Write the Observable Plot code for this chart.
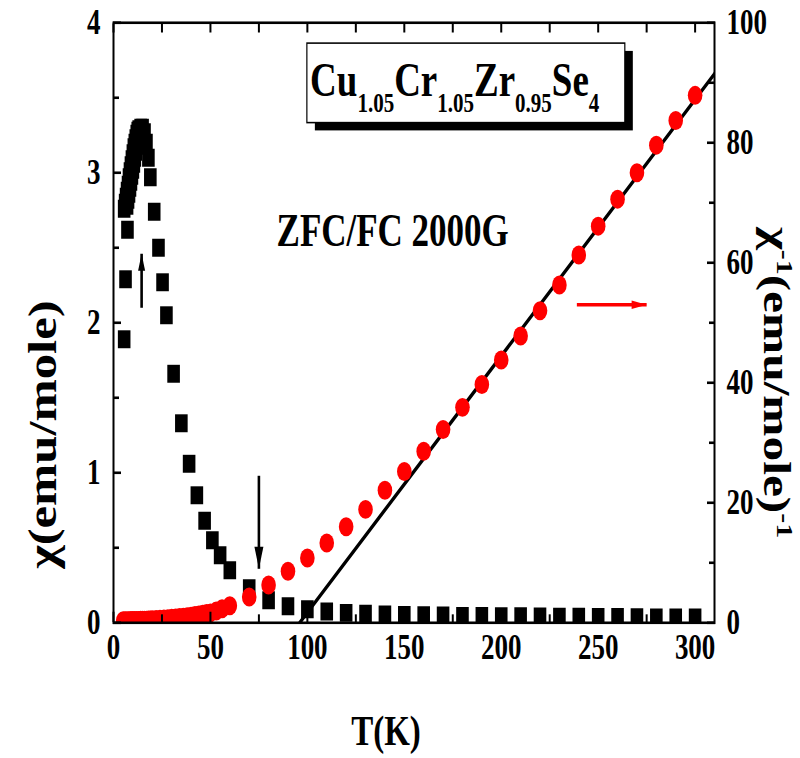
<!DOCTYPE html>
<html>
<head>
<meta charset="utf-8">
<script src="https://cdn.jsdelivr.net/npm/d3@7"></script>
<script src="https://cdn.jsdelivr.net/npm/@observablehq/plot@0.6"></script>
<style>
  body { margin: 0; background: #fff; }
  #chart svg { display: block; }
</style>
</head>
<body>
<div id="chart"></div>
<script>
// ---- data ----
// chi (left axis) : black squares
const sqT = [5.5, 6.2, 7.2,
  5.5, 6, 6.5, 7, 7.5, 8, 8.5, 9, 9.5, 10, 10.5, 11, 11.5, 12, 12.5, 13, 14, 15, 16,
  7, 7.5, 8, 8.5, 9, 9.5, 10, 10.5, 11, 11.5, 12, 13, 14,
  17, 18, 19, 21, 23.2, 25.3, 27.3, 31, 35, 39, 43, 47, 51, 55, 60, 70, 80, 90, 100,
  110, 120, 130, 140, 150, 160, 170, 180, 190, 200, 210, 220, 230, 240, 250, 260, 270, 280, 290, 300];
const sqChi = [1.89, 2.29, 2.62,
  2.76, 2.80, 2.84, 2.88, 2.92, 2.97, 3.01, 3.05, 3.09, 3.13, 3.17, 3.20, 3.23, 3.26, 3.28, 3.29, 3.30, 3.30, 3.27,
  2.78, 2.82, 2.86, 2.90, 2.94, 2.98, 3.02, 3.06, 3.10, 3.14, 3.18, 3.22, 3.25,
  3.20, 3.10, 2.97, 2.74, 2.50, 2.27, 2.05, 1.66, 1.33, 1.06, 0.85, 0.68, 0.55, 0.45, 0.35, 0.23, 0.15, 0.11, 0.09,
  0.075, 0.066, 0.060, 0.055, 0.052, 0.050, 0.048, 0.046, 0.045, 0.044, 0.043, 0.042, 0.041, 0.040, 0.039, 0.038, 0.037, 0.036, 0.036, 0.035];
// 1/chi (right axis) : red circles
const invT = [5, 6, 7, 8, 9, 10, 11, 12, 13, 14, 15, 16, 17, 18, 19, 20, 22, 24, 26, 28, 30, 32, 34, 36, 38, 40,
  42, 44, 46, 48, 50, 53, 56, 60, 70, 80, 90, 100, 110, 120, 130, 140, 150, 160, 170, 180, 190, 200, 210, 220,
  230, 240, 250, 260, 270, 280, 290, 300];
const invChi = [0.35, 0.35, 0.36, 0.36, 0.37, 0.37, 0.38, 0.39, 0.40, 0.41, 0.42, 0.43, 0.44, 0.46, 0.48, 0.50,
  0.54, 0.58, 0.63, 0.68, 0.74, 0.80, 0.87, 0.94, 1.02, 1.10, 1.20, 1.30, 1.42, 1.55, 1.65, 1.95, 2.35, 2.85,
  4.3, 6.3, 8.6, 10.8, 13.3, 16.0, 18.9, 22.1, 25.2, 28.6, 32.2, 35.9, 39.7, 43.8, 47.8, 52.0, 56.3, 61.3, 66.1,
  70.6, 75.0, 79.6, 83.7, 87.9];
// Curie-Weiss fit line end points (right axis)
const fitT = [96, 310];
const fitInv = [0, 91.5];

// axes
const xDomain = [0, 310];
const leftDomain = [0, 4];
const rightDomain = [0, 100];
const xMajor = [0, 50, 100, 150, 200, 250, 300];
const xMinor = [25, 75, 125, 175, 225, 275];
const leftMajor = [0, 1, 2, 3, 4];
const leftMinor = [0.5, 1.5, 2.5, 3.5];
const rightMajor = [0, 20, 40, 60, 80, 100];
const rightMinor = [10, 30, 50, 70, 90];

// texts
const formulaParts = [["Cu", ""], ["1.05", "sub"], ["Cr", ""], ["1.05", "sub"], ["Zr", ""], ["0.95", "sub"], ["Se", ""], ["4", "sub"]];
const rightLabelParts = [["χ", ""], ["-1", "sup"], ["(emu/mole)", ""], ["-1", "sup"]];
const leftLabel = "χ(emu/mole)";
const xLabel = "T(K)";
const fieldLabel = "ZFC/FC 2000G";

// annotations (data coordinates)
const box = {T1: 100, T2: 264, chi1: 3.33, chi2: 3.86};
const arrows = [
  {x1: 14.5, y1: 2.10, x2: 14.5, y2: 2.46, color: "black", len: 13, w: 7, rot: 0},
  {x1: 75, y1: 0.98, x2: 75, y2: 0.36, color: "black", len: 17, w: 9, rot: 180},
  {x1: 239, y1: 53 * 4 / 100, x2: 275, y2: 53 * 4 / 100, color: "#ff0000", len: 15, w: 6.5, rot: 90}
];

// ---- rendering ----
const OUT_H = 758, S = 1.3;           // the picture is stretched vertically
const H = Math.round(OUT_H / S);
const K = leftDomain[1] / rightDomain[1];   // right-axis -> left-axis factor

const squares = sqT.map((t, i) => ({T: t, v: sqChi[i]}));
const circles = invT.map((t, i) => ({T: t, v: invChi[i] * K}));
const fit = fitT.map((t, i) => ({T: t, v: fitInv[i] * K}));

const rectSymbol = { draw(ctx) { ctx.rect(-6.3, -6.9, 12.6, 13.8); } };
const headSymbol = (len, w) => ({ draw(ctx) { ctx.moveTo(0, 0); ctx.lineTo(w / 2, len); ctx.lineTo(-w / 2, len); ctx.closePath(); } });
const formulaPlain = formulaParts.map(d => d[0]).join("");
const rightPlain = rightLabelParts.map(d => d[0]).join("");
const bold = {fontWeight: "bold", fontFamily: "Liberation Serif"};

const svg = Plot.plot({
  width: 800,
  height: H,
  marginLeft: 113,
  marginRight: 86,
  marginTop: 17,
  marginBottom: H - 478.5,
  style: {fontFamily: "Liberation Serif", color: "black", background: "white"},
  x: {domain: xDomain},
  y: {domain: leftDomain},
  marks: [
    // title box with shadow
    Plot.rect([box], {x1: "T1", x2: "T2", y1: "chi1", y2: "chi2", fill: "black", dx: 8, dy: 6}),
    Plot.rect([box], {x1: "T1", x2: "T2", y1: "chi1", y2: "chi2", fill: "white", stroke: "black", strokeWidth: 1.2}),
    Plot.text([formulaPlain], {x: 176, y: 3.617, text: d => d, fontSize: 37, ...bold, textAnchor: "middle"}),
    Plot.text([fieldLabel], {x: 144, y: 2.61, text: d => d, fontSize: 35, ...bold}),
    // data
    Plot.line(fit, {x: "T", y: "v", stroke: "black", strokeWidth: 3, clip: true}),
    Plot.dot(squares, {x: "T", y: "v", symbol: rectSymbol, fill: "black", stroke: "none", clip: true}),
    Plot.dot(circles, {x: "T", y: "v", r: 7.3, fill: "#ff0000", stroke: "none", clip: true}),
    Plot.link(arrows, {x1: "x1", y1: "y1", x2: "x2", y2: "y2", stroke: "color", strokeWidth: 2.6}),
    ...arrows.map(a => Plot.dot([a], {x: "x2", y: "y2", fill: "color", stroke: "none", symbol: headSymbol(a.len, a.w), rotate: a.rot})),
    // axes
    Plot.axisX(xMajor, {anchor: "bottom", tickSize: -8, tickPadding: 17, strokeWidth: 2, fontSize: 27, ...bold, label: null}),
    Plot.axisX(xMinor, {anchor: "bottom", tickSize: -6, strokeWidth: 2, tickFormat: () => "", label: null}),
    Plot.axisX(xMajor.concat(xMinor), {anchor: "top", tickSize: -7, strokeWidth: 2, tickFormat: () => "", label: null}),
    Plot.axisY(leftMajor, {anchor: "left", tickSize: -8, tickPadding: 21, strokeWidth: 2, fontSize: 27, ...bold, tickFormat: d => String(d), label: null}),
    Plot.axisY(leftMinor, {anchor: "left", tickSize: -6, strokeWidth: 2, tickFormat: () => "", label: null}),
    Plot.axisY(rightMajor.map(v => v * K), {anchor: "right", tickSize: -8, tickPadding: 20, strokeWidth: 2, fontSize: 27, ...bold, tickFormat: d => String(Math.round(d / K)), label: null}),
    Plot.axisY(rightMinor.map(v => v * K), {anchor: "right", tickSize: -6, strokeWidth: 2, tickFormat: () => "", label: null}),
    Plot.frame({stroke: "black", strokeWidth: 2}),
    // axis titles
    Plot.text([xLabel], {frameAnchor: "bottom", text: d => d, dx: -28, dy: 94, textAnchor: "middle", fontSize: 33, ...bold}),
    Plot.text([leftLabel], {frameAnchor: "left", text: d => d, dx: -70, dy: 86, textAnchor: "middle", rotate: -90, fontSize: 39, letterSpacing: 3.5, ...bold}),
    Plot.text([rightPlain], {frameAnchor: "right", text: d => d, dx: 62, dy: 46, textAnchor: "middle", rotate: 90, fontSize: 38, letterSpacing: 2.5, ...bold})
  ]
});

function richText(plain, parts, small, shift) {
  d3.select(svg).selectAll("text").filter(function () { return this.textContent === plain; }).each(function () {
    const t = d3.select(this);
    t.text(null);
    let cur = 0;
    for (const [s, kind] of parts) {
      const target = kind === "sub" ? shift : kind === "sup" ? -shift : 0;
      const sp = t.append("tspan").attr("dy", target - cur).text(s);
      if (kind) sp.attr("font-size", small);
      cur = target;
    }
  });
}
richText(formulaPlain, formulaParts, 21, 13);
richText(rightPlain, rightLabelParts, 23, 13);

svg.setAttribute("preserveAspectRatio", "none");
svg.setAttribute("height", OUT_H);
svg.style.height = OUT_H + "px";
svg.style.maxWidth = "none";
document.getElementById("chart").appendChild(svg);
</script>
</body>
</html>
